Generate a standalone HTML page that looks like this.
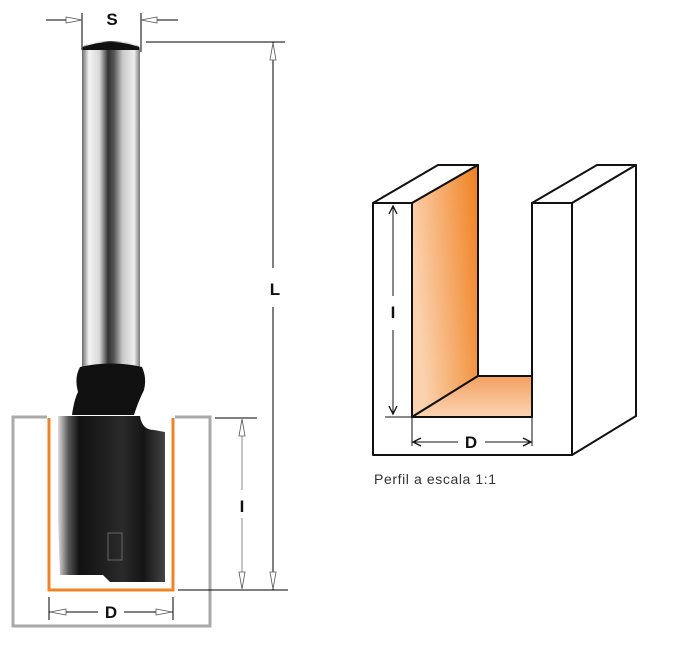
<!DOCTYPE html>
<html><head><meta charset="utf-8"><style>
html,body{margin:0;padding:0;background:#fff;}
svg{display:block;}
</style></head><body>
<svg width="683" height="646" viewBox="0 0 683 646" xmlns="http://www.w3.org/2000/svg">
<defs>
<linearGradient id="shank" x1="0" x2="1" y1="0" y2="0">
<stop offset="0" stop-color="#6a6a6a"/><stop offset="0.12" stop-color="#f4f4f4"/><stop offset="0.3" stop-color="#d8d8d8"/><stop offset="0.45" stop-color="#333"/><stop offset="0.55" stop-color="#555"/><stop offset="0.7" stop-color="#c8c8c8"/><stop offset="0.9" stop-color="#eee"/><stop offset="1" stop-color="#777"/>
</linearGradient>
<linearGradient id="body" x1="0" x2="1" y1="0" y2="0">
<stop offset="0" stop-color="#ddd"/><stop offset="0.1" stop-color="#555"/><stop offset="0.2" stop-color="#111"/><stop offset="0.6" stop-color="#2a2a2a"/><stop offset="0.8" stop-color="#151515"/><stop offset="1" stop-color="#444"/>
</linearGradient>
<linearGradient id="org" x1="0" x2="1" y1="0.3" y2="0">
<stop offset="0" stop-color="#fbd2ae"/><stop offset="1" stop-color="#f08020"/>
</linearGradient>
<linearGradient id="org2" x1="0" x2="0" y1="1" y2="0">
<stop offset="0" stop-color="#fbd5b4"/><stop offset="1" stop-color="#f3a060"/>
</linearGradient>
</defs>
<!-- left tool -->
<rect x="13" y="417" width="197" height="209" fill="none" stroke="#aaa" stroke-width="3"/>
<rect x="47" y="414" width="128" height="6" fill="#fff"/>
<path d="M82,48 Q84,42 111,41 Q138,42 140,48 L140,368 L82,368 Z" fill="url(#shank)"/>
<path d="M83,47 Q111,37 139,47 L139,50 L83,50Z" fill="#111"/>
<path d="M80,367 Q111,360 142,367 Q147,378 144,390 Q138,402 134,415 L72,415 Q74,400 78,392 Q74,378 80,367Z" fill="#111"/>
<path d="M58,416 L140,416 Q142,430 154,430 L165,432 L165,582 L110,582 L103,575 L60,575 L58,520Z" fill="url(#body)"/>
<rect x="108" y="533" width="14" height="27" fill="none" stroke="#666" stroke-width="1"/>
<path d="M49,418 L49,590 L173,590 L173,418" fill="none" stroke="#f08424" stroke-width="3"/>
<!-- dims left -->
<g stroke="#000" stroke-width="1" fill="none">
<line x1="82" y1="13" x2="82" y2="50"/><line x1="141" y1="13" x2="141" y2="52"/>
<line x1="46" y1="20" x2="82" y2="20"/><line x1="141" y1="20" x2="178" y2="20"/>
<line x1="146" y1="42" x2="285" y2="42"/>
<line x1="273" y1="42" x2="273" y2="268"/><line x1="273" y1="307" x2="273" y2="590"/>
<line x1="178" y1="590" x2="288" y2="590"/>
<line x1="215" y1="418" x2="257" y2="418"/>
<line x1="49" y1="597" x2="49" y2="620"/><line x1="173" y1="597" x2="173" y2="620"/>
<line x1="49" y1="612" x2="98" y2="612"/><line x1="124" y1="612" x2="173" y2="612"/>
</g>
<g stroke="#888" stroke-width="1" fill="none">
<line x1="242" y1="418" x2="242" y2="490"/><line x1="242" y1="518" x2="242" y2="590"/>
</g>
<g fill="#fff" stroke="#555" stroke-width="0.8">
<path d="M82,20 L66,17 L66,23Z"/><path d="M141,20 L157,17 L157,23Z"/>
<path d="M273,43 L270,60 L276,60Z"/><path d="M273,589 L270,572 L276,572Z"/>
<path d="M242,419 L239,436 L245,436Z"/><path d="M242,589 L239,572 L245,572Z"/>
<path d="M50,612 L66,609 L66,615Z"/><path d="M172,612 L156,609 L156,615Z"/>
</g>
<g font-family="Liberation Sans, sans-serif" font-weight="bold" font-size="17" fill="#111" text-anchor="middle">
<text x="112" y="25">S</text><text x="275" y="295">L</text><text x="242" y="512">I</text><text x="111" y="618">D</text>
</g>
<!-- right profile -->
<g stroke="#111" stroke-width="2" stroke-linejoin="round">
<path d="M373,203 L438,165 L478,165 L412,203Z" fill="#fff"/>
<path d="M532,203 L597,165 L636,165 L572,203Z" fill="#fff"/>
<path d="M572,203 L636,165 L636,416 L572,455Z" fill="#fff"/>
<path d="M373,203 L412,203 L412,417 L532,417 L532,203 L572,203 L572,455 L373,455Z" fill="#fff"/>
<path d="M412,203 L478,165 L478,376 L412,417Z" fill="url(#org)"/>
<path d="M412,417 L478,376 L532,376 L532,417Z" fill="url(#org2)"/>
</g>
<g stroke="#111" stroke-width="1" fill="none">
<line x1="385" y1="203" x2="412" y2="203"/><line x1="385" y1="417" x2="412" y2="417"/>
<line x1="393" y1="206" x2="393" y2="296"/><line x1="393" y1="330" x2="393" y2="414"/>
<line x1="412" y1="418" x2="412" y2="446"/><line x1="532" y1="418" x2="532" y2="446"/>
<line x1="413" y1="442" x2="458" y2="442"/><line x1="485" y1="442" x2="531" y2="442"/>
<path d="M389,214 L393,206 L397,214" stroke-width="1.3"/><path d="M389,406 L393,414 L397,406" stroke-width="1.3"/>
<path d="M421,438 L413,442 L421,446" stroke-width="1.3"/><path d="M523,438 L531,442 L523,446" stroke-width="1.3"/>
</g>
<g font-family="Liberation Sans, sans-serif" font-weight="bold" font-size="17" fill="#111" text-anchor="middle">
<text x="393" y="318">I</text><text x="471" y="448">D</text>
</g>
<text x="374" y="484" font-family="Liberation Sans Narrow, Liberation Sans, sans-serif" font-size="14" letter-spacing="0.6" fill="#333">Perfil a escala 1:1</text>
</svg>
</body></html>
